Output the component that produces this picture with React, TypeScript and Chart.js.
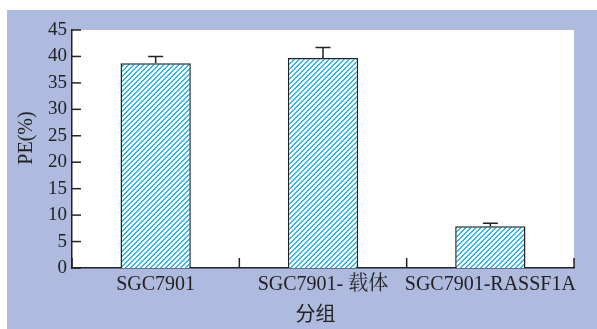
import React, { useEffect, useRef } from 'react';
import { Chart, registerables } from 'chart.js';

Chart.register(...registerables);

const categories = ['SGC7901', 'SGC7901- 载体', 'SGC7901-RASSF1A'];
const peValues = [38.7, 39.7, 7.9];
const peErrors = [1.3, 2.0, 0.55];
const yTickValues = [0, 5, 10, 15, 20, 25, 30, 35, 40, 45];
const yTitle = 'PE(%)';
const xTitle = '分组';

const SERIF = "'Liberation Serif', 'Noto Serif CJK SC', 'Noto Sans CJK SC', serif";
const CJK = "'Noto Sans CJK SC', 'Liberation Serif', sans-serif";
const INK = '#222';

function makePattern(ctx: CanvasRenderingContext2D) {
  const n = 5;
  const c = document.createElement('canvas');
  c.width = n;
  c.height = n;
  const g = c.getContext('2d')!;
  g.fillStyle = '#ffffff';
  g.fillRect(0, 0, n, n);
  g.fillStyle = '#2fb6ec';
  for (let x = 0; x < n; x++) {
    for (let y = 0; y < n; y++) {
      if ((x + y) % n < 2) g.fillRect(x, y, 1, 1);
    }
  }
  return ctx.createPattern(c, 'repeat')!;
}

const customPlugin = {
  id: 'customDecor',
  beforeDraw(chart: any) {
    const { ctx, chartArea } = chart;
    ctx.save();
    ctx.fillStyle = '#ffffff';
    ctx.fillRect(chartArea.left, chartArea.top, chartArea.right - chartArea.left, chartArea.bottom - chartArea.top);
    ctx.restore();
  },
  afterDatasetsDraw(chart: any) {
    const { ctx } = chart;
    const xs = chart.scales.x;
    const ys = chart.scales.y;
    const meta = chart.getDatasetMeta(0);
    ctx.save();
    ctx.strokeStyle = INK;
    ctx.lineWidth = 1.5;
    meta.data.forEach((bar: any, i: number) => {
      const x = bar.x;
      const yTop = ys.getPixelForValue(peValues[i]);
      const yErr = ys.getPixelForValue(peValues[i] + peErrors[i]);
      ctx.beginPath();
      ctx.moveTo(x, yTop);
      ctx.lineTo(x, yErr);
      ctx.moveTo(x - 7.5, yErr);
      ctx.lineTo(x + 7.5, yErr);
      ctx.stroke();
    });
    yTickValues.forEach((v) => {
      const py = ys.getPixelForValue(v);
      ctx.beginPath();
      ctx.moveTo(xs.left, py);
      ctx.lineTo(xs.left + 9, py);
      ctx.stroke();
    });
    for (let i = 0; i <= categories.length; i++) {
      const px = xs.getPixelForValue(i - 0.5);
      ctx.beginPath();
      ctx.moveTo(px, ys.bottom);
      ctx.lineTo(px, ys.bottom - 10);
      ctx.stroke();
    }
    ctx.restore();
  },
  afterDraw(chart: any) {
    const { ctx } = chart;
    ctx.save();
    ctx.fillStyle = INK;
    ctx.textAlign = 'center';
    ctx.textBaseline = 'middle';
    ctx.font = `20px ${SERIF}`;
    ctx.translate(20, 128);
    ctx.rotate(-Math.PI / 2);
    ctx.fillText(yTitle, 0, 0);
    ctx.restore();

    ctx.save();
    ctx.fillStyle = INK;
    ctx.textAlign = 'center';
    ctx.textBaseline = 'middle';
    ctx.font = `20px ${CJK}`;
    ctx.fillText(xTitle, 308.5, 303);
    ctx.restore();
  },
};

export default function App() {
  const canvasRef = useRef<HTMLCanvasElement | null>(null);

  useEffect(() => {
    const canvas = canvasRef.current!;
    const ctx = canvas.getContext('2d')!;
    const pattern = makePattern(ctx);
    const chart = new Chart(ctx, {
      type: 'bar',
      data: {
        labels: categories,
        datasets: [
          {
            label: 'PE',
            data: peValues,
            backgroundColor: pattern,
            borderColor: INK,
            borderWidth: 1.5,
            barPercentage: 0.42,
            categoryPercentage: 1,
          },
        ],
      },
      options: {
        responsive: false,
        animation: false,
        devicePixelRatio: 1,
        layout: { padding: { left: 0, right: 23, top: 20, bottom: 0 } },
        plugins: {
          legend: { display: false },
          tooltip: { enabled: false },
          title: { display: false },
        },
        scales: {
          x: {
            type: 'category',
            offset: true,
            grid: { display: false, drawTicks: false },
            border: { display: true, color: INK, width: 1.5 },
            ticks: {
              color: INK,
              font: { family: SERIF, size: 20 },
              padding: 5,
              maxRotation: 0,
              minRotation: 0,
              autoSkip: false,
            },
            afterFit: (scale: any) => {
              scale.height = 61;
              scale.paddingLeft = 0;
              scale.paddingRight = 0;
            },
          },
          y: {
            min: 0,
            max: 45,
            grid: { display: false, drawTicks: false },
            border: { display: true, color: INK, width: 1.5 },
            ticks: {
              color: INK,
              font: { family: SERIF, size: 19 },
              padding: 5,
            },
            afterBuildTicks: (scale: any) => {
              scale.ticks = yTickValues.map((v) => ({ value: v }));
            },
            afterFit: (scale: any) => {
              scale.width = 65;
              scale.paddingTop = 0;
              scale.paddingBottom = 0;
            },
          },
        },
      },
      plugins: [customPlugin],
    });
    return () => chart.destroy();
  }, []);

  return (
    <div style={{ position: 'absolute', left: 0, top: 0, width: 597, height: 329, background: '#ffffff', overflow: 'hidden' }}>
      <div style={{ position: 'absolute', left: 7, top: 10, width: 590, height: 319, background: '#aebbdf' }}>
        <canvas ref={canvasRef} width={590} height={319} style={{ display: 'block', width: 590, height: 319 }} />
      </div>
    </div>
  );
}
